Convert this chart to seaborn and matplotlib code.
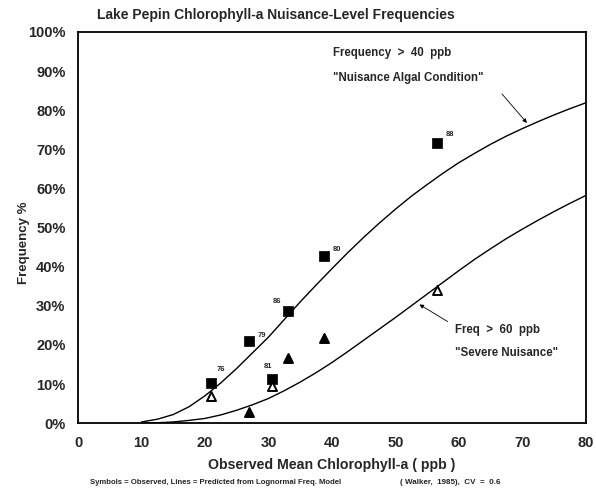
import numpy as np
import pandas as pd
import matplotlib.pyplot as plt
import seaborn as sns

# observed mean chl-a and nuisance frequencies (%)
obs_mean = [20.9, 26.9, 30.5, 33.1, 38.8, 56.5]
freq40_obs = [10.2, 21.0, 11.3, 28.6, 42.7, 71.6]
freq60_obs = [6.9, 2.8, 9.5, 16.6, 21.7, 34.0]
tri_filled = [False, True, False, True, True, False]

# predicted curves
curve_x = [10, 12.5, 15, 17.5, 20, 22.5, 25, 27.5, 30, 32.5, 35, 37.5, 40, 42.5, 45,
           47.5, 50, 52.5, 55, 57.5, 60, 62.5, 65, 67.5, 70, 72.5, 75, 77.5, 80]
curve40 = [0.3, 1.0, 2.2, 4.2, 7.0, 10.3, 14.0, 18.0, 22.0, 26.5, 31.0, 35.3, 39.5, 43.6, 47.5,
           51.2, 54.7, 58.0, 61.0, 63.9, 66.6, 69.0, 71.3, 73.4, 75.3, 77.1, 78.8, 80.4, 81.9]
curve60 = [0.0, 0.1, 0.3, 0.7, 1.2, 2.1, 3.3, 4.7, 6.3, 8.3, 10.5, 12.9, 15.5, 18.3, 21.2,
           24.1, 27.0, 30.0, 33.0, 36.0, 39.0, 41.9, 44.6, 47.2, 49.6, 51.9, 54.1, 56.2, 58.2]

sns.set_style('white')
plt.rcParams['font.family'] = ['Liberation Sans', 'DejaVu Sans']
plt.rcParams['font.weight'] = 'bold'

fig = plt.figure(figsize=(5.96, 4.92), dpi=100)
ax = fig.add_axes([0.131, 0.140, 0.852, 0.795])

curves = pd.DataFrame({'x': curve_x * 2,
                       'y': curve40 + curve60,
                       'series': ['40'] * len(curve_x) + ['60'] * len(curve_x)})
sns.lineplot(data=curves, x='x', y='y', hue='series', palette=['black', 'black'],
             linewidth=1.0, legend=False, ax=ax)

sns.scatterplot(x=obs_mean, y=freq40_obs, marker='s', s=42, color='black',
                edgecolor='black', ax=ax, zorder=3)
for xi, yi, f in zip(obs_mean, freq60_obs, tri_filled):
    ax.scatter(xi, yi, marker='^', s=42, facecolor='black' if f else 'white',
               edgecolor='black', linewidth=1.4, zorder=3)

label_pos = [(22.5, 13.8), (29.0, 22.3), (29.9, 14.6), (31.3, 31.2), (40.8, 44.5), (58.6, 73.7)]
label_txt = ['76', '79', '81', '86', '80', '88']
for (lx, ly), t in zip(label_pos, label_txt):
    ax.text(lx, ly, t, fontsize=5.5, fontweight='bold', ha='center', va='center')

ax.text(40.2, 94.6, 'Frequency  >  40  ppb', fontsize=8.3, fontweight='bold', va='center')
ax.text(40.2, 88.2, '"Nuisance Algal Condition"', fontsize=8.3, fontweight='bold', va='center')
ax.annotate('', xy=(71.0, 76.2), xytext=(66.5, 84.7),
            arrowprops=dict(arrowstyle='-|>', color='black', lw=0.6, mutation_scale=6))
ax.text(59.4, 23.8, 'Freq  >  60  ppb', fontsize=8.3, fontweight='bold', va='center')
ax.text(59.4, 17.9, '"Severe Nuisance"', fontsize=8.3, fontweight='bold', va='center')
ax.annotate('', xy=(53.4, 30.7), xytext=(58.6, 25.6),
            arrowprops=dict(arrowstyle='-|>', color='black', lw=0.6, mutation_scale=6))

ax.set_xlim(0, 80)
ax.set_ylim(0, 100)
ax.set_xticks(range(0, 81, 10))
ax.set_yticks(range(0, 101, 10))
ax.set_yticklabels([f'{v}%' for v in range(0, 101, 10)])
ax.tick_params(direction='in', length=5, width=1, labelsize=10.5, pad=9)
for lab in ax.get_xticklabels() + ax.get_yticklabels():
    lab.set_fontweight('bold')
for sp in ax.spines.values():
    sp.set_color('black')
    sp.set_linewidth(1.3)

fig.text(0.463, 0.969, 'Lake Pepin Chlorophyll-a Nuisance-Level Frequencies', fontsize=10,
         fontweight='bold', ha='center', va='center')
ax.set_xlabel('Observed Mean Chlorophyll-a ( ppb )', fontsize=10.2, fontweight='bold', labelpad=6)
ax.set_ylabel('Frequency %', fontsize=9.5, fontweight='bold')
ax.yaxis.set_label_coords(-0.095, 0.46)

fig.text(0.151, 0.020, 'Symbols = Observed, Lines = Predicted from Lognormal Freq. Model',
         fontsize=5.6, fontweight='bold', va='center')
fig.text(0.671, 0.020, '( Walker,  1985),  CV  =  0.6', fontsize=5.8, fontweight='bold', va='center')

fig.savefig('out.png', dpi=100)
